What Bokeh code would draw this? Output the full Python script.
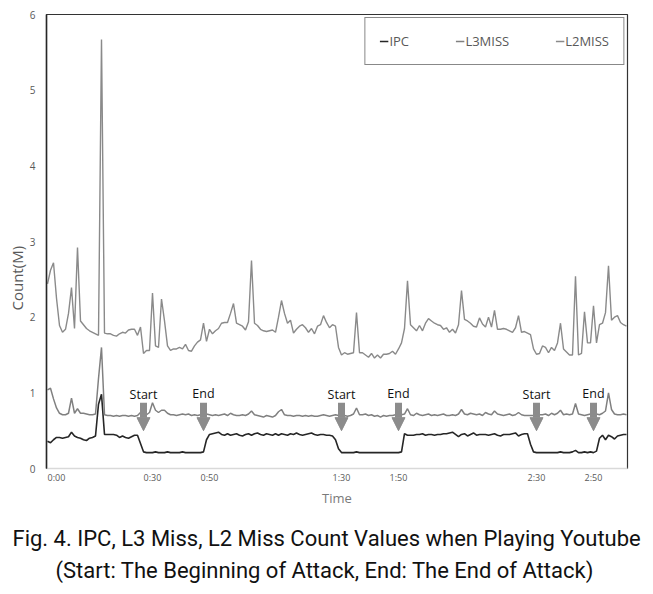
from bokeh.plotting import figure
from bokeh.models import (Range1d, FixedTicker, Title, Legend, LegendItem, Arrow,
                          NormalHead, ColumnDataSource)
from bokeh.core.properties import value
from bokeh.embed import file_html
from bokeh.resources import INLINE

# ---------------- data ----------------
sample = list(range(194))

ipc = [
    0.36, 0.34, 0.38, 0.41, 0.41, 0.40, 0.41, 0.42, 0.48, 0.43,
    0.41, 0.40, 0.38, 0.37, 0.40, 0.41, 0.43, 0.85, 0.98, 0.45,
    0.45, 0.45, 0.45, 0.44, 0.41, 0.43, 0.41, 0.40, 0.42, 0.44,
    0.44, 0.33, 0.22, 0.21, 0.21, 0.21, 0.22, 0.21, 0.21, 0.21,
    0.22, 0.21, 0.21, 0.21, 0.21, 0.22, 0.21, 0.21, 0.21, 0.21,
    0.21, 0.21, 0.22, 0.38, 0.45, 0.46, 0.47, 0.48, 0.45, 0.44,
    0.46, 0.44, 0.45, 0.46, 0.44, 0.43, 0.45, 0.46, 0.44, 0.46,
    0.47, 0.45, 0.44, 0.46, 0.45, 0.44, 0.46, 0.44, 0.46, 0.45,
    0.44, 0.46, 0.45, 0.47, 0.45, 0.44, 0.45, 0.46, 0.47, 0.45,
    0.44, 0.45, 0.45, 0.44, 0.44, 0.43, 0.38, 0.26, 0.21, 0.21,
    0.21, 0.21, 0.21, 0.22, 0.21, 0.21, 0.21, 0.21, 0.21, 0.21,
    0.21, 0.21, 0.21, 0.21, 0.21, 0.21, 0.21, 0.21, 0.22, 0.46,
    0.44, 0.44, 0.44, 0.45, 0.45, 0.46, 0.44, 0.45, 0.45, 0.44,
    0.45, 0.45, 0.46, 0.46, 0.47, 0.48, 0.45, 0.42, 0.45, 0.46,
    0.43, 0.45, 0.47, 0.44, 0.45, 0.45, 0.45, 0.44, 0.45, 0.46,
    0.44, 0.43, 0.45, 0.45, 0.45, 0.46, 0.47, 0.43, 0.45, 0.46,
    0.46, 0.32, 0.22, 0.21, 0.21, 0.21, 0.21, 0.21, 0.21, 0.21,
    0.21, 0.22, 0.21, 0.21, 0.21, 0.22, 0.24, 0.21, 0.21, 0.22,
    0.21, 0.22, 0.21, 0.23, 0.40, 0.44, 0.38, 0.44, 0.42, 0.39,
    0.43, 0.44, 0.45, 0.45,
]

l3miss = [
    1.04, 1.06, 0.92, 0.80, 0.73, 0.71, 0.71, 0.73, 0.93, 0.73,
    0.79, 0.73, 0.73, 0.72, 0.71, 0.71, 0.72, 1.19, 1.60, 0.71,
    0.70, 0.70, 0.69, 0.70, 0.69, 0.70, 0.70, 0.69, 0.70, 0.69,
    0.70, 0.74, 0.70, 0.71, 0.74, 0.87, 0.77, 0.74, 0.77, 0.77,
    0.73, 0.71, 0.71, 0.70, 0.71, 0.72, 0.71, 0.72, 0.70, 0.71,
    0.70, 0.71, 0.70, 0.72, 0.71, 0.70, 0.71, 0.70, 0.71, 0.72,
    0.70, 0.73, 0.71, 0.70, 0.70, 0.71, 0.70, 0.72, 0.76, 0.71,
    0.70, 0.69, 0.68, 0.70, 0.69, 0.68, 0.70, 0.75, 0.78, 0.71,
    0.70, 0.70, 0.69, 0.70, 0.70, 0.69, 0.70, 0.69, 0.70, 0.69,
    0.69, 0.70, 0.71, 0.70, 0.69, 0.70, 0.71, 0.70, 0.69, 0.70,
    0.69, 0.70, 0.72, 0.80, 0.71, 0.71, 0.72, 0.70, 0.71, 0.69,
    0.70, 0.68, 0.70, 0.69, 0.70, 0.70, 0.71, 0.71, 0.71, 0.72,
    0.79, 0.71, 0.70, 0.73, 0.71, 0.70, 0.71, 0.72, 0.70, 0.71,
    0.70, 0.71, 0.72, 0.70, 0.70, 0.71, 0.70, 0.72, 0.78, 0.72,
    0.71, 0.73, 0.72, 0.71, 0.72, 0.70, 0.74, 0.72, 0.71, 0.76,
    0.72, 0.71, 0.70, 0.71, 0.72, 0.70, 0.71, 0.74, 0.71, 0.70,
    0.70, 0.70, 0.70, 0.71, 0.71, 0.71, 0.72, 0.70, 0.73, 0.71,
    0.73, 0.77, 0.71, 0.72, 0.71, 0.72, 0.86, 0.72, 0.71, 0.70,
    0.71, 0.72, 0.71, 0.72, 0.71, 0.73, 0.76, 1.00, 0.78, 0.72,
    0.71, 0.71, 0.72, 0.71,
]

l2miss = [
    2.44, 2.62, 2.72, 2.25, 1.89, 1.80, 1.84, 2.05, 2.39, 1.85,
    2.92, 1.95, 1.90, 1.85, 1.82, 1.80, 1.78, 1.76, 5.67, 1.79,
    1.78, 1.78, 1.76, 1.75, 1.78, 1.80, 1.79, 1.83, 1.84, 1.84,
    1.76, 1.87, 1.52, 1.56, 1.56, 2.32, 1.62, 1.60, 2.24, 1.95,
    1.62, 1.56, 1.58, 1.58, 1.60, 1.58, 1.64, 1.56, 1.55, 1.62,
    1.67, 1.70, 1.92, 1.68, 1.84, 1.78, 1.82, 1.85, 1.92, 1.93,
    1.93, 2.05, 2.18, 1.92, 1.90, 1.88, 1.83, 1.94, 2.75, 1.92,
    1.89, 1.84, 1.82, 1.81, 1.82, 1.83, 1.80, 2.00, 2.22, 2.05,
    1.92, 1.96, 1.79, 1.84, 1.88, 1.90, 1.86, 1.80, 1.85, 1.78,
    1.88, 1.90, 2.02, 1.93, 1.86, 1.90, 1.88, 1.60, 1.50, 1.53,
    1.51, 1.52, 1.53, 2.06, 1.53, 1.53, 1.50, 1.47, 1.52, 1.46,
    1.50, 1.46, 1.51, 1.51, 1.52, 1.55, 1.51, 1.58, 1.66, 1.85,
    2.48, 1.90, 1.86, 1.82, 1.89, 1.82, 1.92, 1.98, 1.95, 1.92,
    1.90, 1.89, 1.84, 1.86, 1.80, 1.84, 1.79, 1.90, 2.35, 1.97,
    1.95, 1.92, 1.88, 1.87, 1.99, 1.91, 1.87, 2.00, 1.87, 2.09,
    1.84, 1.84, 1.85, 1.84, 1.82, 1.80, 1.86, 2.02, 1.80, 1.81,
    1.79, 1.77, 1.58, 1.51, 1.52, 1.62, 1.60, 1.53, 1.60, 1.56,
    1.66, 1.92, 1.58, 1.54, 1.50, 1.50, 2.54, 1.50, 1.52, 2.07,
    1.66, 1.66, 2.15, 1.66, 1.90, 1.92, 2.06, 2.68, 1.96, 2.00,
    2.02, 1.93, 1.90, 1.88,
]

assert len(ipc) == len(sample) and len(l3miss) == len(sample) and len(l2miss) == len(sample)

tick_pos = [3, 35, 54, 98, 117, 163, 182]
tick_labels = ["0:00", "0:30", "0:50", "1:30", "1:50", "2:30", "2:50"]
attack_start = [32, 98, 163]
attack_end = [52, 117, 182]

# ---------------- figure ----------------
p = figure(frame_width=581, frame_height=454,
           x_range=Range1d(-1/3, 193 + 1/3), y_range=Range1d(0, 6),
           output_backend="svg", toolbar_location=None,
           min_border_left=46, min_border_top=14, min_border_right=20,
           min_border_bottom=124)
p.background_fill_color = "white"
p.border_fill_color = "white"
p.outline_line_color = "#333333"
p.outline_line_width = 1.2
p.xgrid.visible = False
p.ygrid.visible = False

r_ipc = p.line(sample, ipc, line_color="#262626", line_width=1.6)
r_l3 = p.line(sample, l3miss, line_color="#808080", line_width=1.5)
r_l2 = p.line(sample, l2miss, line_color="#8a8a8a", line_width=1.4)

# attack markers
arr_src = ColumnDataSource(dict(
    x=attack_start + attack_end,
    y0=[0.87] * 6,
    y1=[0.50] * 6,
))
p.add_layout(Arrow(source=arr_src, x_start="x", y_start="y0", x_end="x", y_end="y1",
                   line_color="#8c8c8c", line_width=7,
                   end=NormalHead(size=13, fill_color="#8c8c8c", line_color="#8c8c8c")))
p.text(x=attack_start, y=[0.98] * 3, text=["Start"] * 3,
       text_font=value("Open Sans"), text_font_size="12.5px", text_color="#111111",
       text_align="center", text_baseline="middle")
p.text(x=attack_end, y=[0.99] * 3, text=["End"] * 3,
       text_font=value("Open Sans"), text_font_size="12.5px", text_color="#111111",
       text_align="center", text_baseline="middle")

# axes
yax = p.yaxis[0]
yax.ticker = FixedTicker(ticks=[0, 1, 2, 3, 4, 5, 6])
yax.major_tick_line_color = None
yax.minor_tick_line_color = None
yax.major_tick_out = 0
yax.major_tick_in = 0
yax.minor_tick_out = 0
yax.minor_tick_in = 0
yax.axis_line_color = "#262626"
yax.axis_line_width = 1.5
yax.major_label_standoff = 11
yax.major_label_text_font = "Open Sans"
yax.major_label_text_font_size = "10px"
yax.major_label_text_color = "#595959"

xax = p.xaxis[0]
xax.ticker = FixedTicker(ticks=tick_pos)
xax.major_label_overrides = {t: l for t, l in zip(tick_pos, tick_labels)}
xax.major_tick_line_color = None
xax.minor_tick_line_color = None
xax.major_tick_out = 0
xax.major_tick_in = 0
xax.minor_tick_out = 0
xax.minor_tick_in = 0
xax.axis_line_color = "#d9d9d9"
xax.axis_line_width = 1.5
xax.major_label_standoff = 2
xax.major_label_text_font = "Open Sans"
xax.major_label_text_font_size = "9px"
xax.major_label_text_color = "#595959"
xax.axis_label = "Time"
xax.axis_label_standoff = 2
xax.axis_label_text_font = "Open Sans"
xax.axis_label_text_font_size = "13px"
xax.axis_label_text_font_style = "normal"
xax.axis_label_text_color = "#7a7a7a"

p.add_layout(Title(text="Count(M)", align="left", offset=158, standoff=0,
                   text_font="Open Sans", text_font_size="15px",
                   text_font_style="normal", text_color="#595959"), "left")

cap_font = "Roboto"
p.add_layout(Title(text="Fig. 4. IPC, L3 Miss, L2 Miss Count Values when Playing Youtube",
                   align="left", offset=-34, standoff=28, text_font=cap_font,
                   text_font_size="22px", text_font_style="normal",
                   text_line_height=0.9, text_color="#111111"), "below")
p.add_layout(Title(text="(Start: The Beginning of Attack, End: The End of Attack)",
                   align="left", offset=9, standoff=-18, text_font=cap_font,
                   text_font_size="22px", text_font_style="normal",
                   text_line_height=0.9, text_color="#111111"), "below")

legend = Legend(items=[LegendItem(label="IPC", renderers=[r_ipc]),
                       LegendItem(label="L3MISS", renderers=[r_l3]),
                       LegendItem(label="L2MISS", renderers=[r_l2])],
                orientation="horizontal", location="top_right")
legend.padding = 14
legend.spacing = 46
legend.margin = 3
legend.glyph_width = 9
legend.glyph_height = 12
legend.label_standoff = 1
legend.label_text_font = "Open Sans"
legend.label_text_font_size = "13px"
legend.label_text_color = "#595959"
legend.border_line_color = "#111111"
legend.border_line_width = 1.2
legend.background_fill_alpha = 1
p.add_layout(legend, "center")

open("out.html", "w").write(file_html(p, INLINE))
